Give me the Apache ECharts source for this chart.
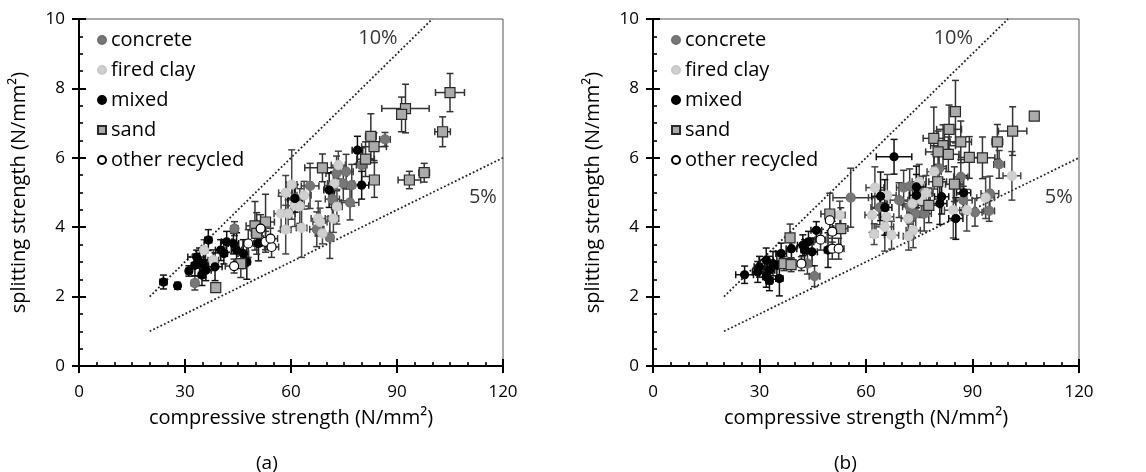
<!DOCTYPE html>
<html>
<head>
<meta charset="utf-8">
<script src="https://cdn.jsdelivr.net/npm/echarts@6/dist/echarts.min.js"></script>
<style>html,body{margin:0;padding:0;background:#fff}#c{width:1146px;height:472px}</style>
</head>
<body>
<div id="c"></div>
<script>
// ---- data: [compressive, splitting, x error, y error] ----
const concreteA = [[86.6,6.53,1.5,0.2],[80.0,5.79,1.5,0.5],[72.9,5.55,3.0,0.5],[75.6,5.60,2.0,0.5],[74.8,5.26,3.0,0.5],[77.2,5.21,2.0,0.6],[65.4,5.19,2.5,0.65],[71.7,4.81,2.0,0.5],[76.7,4.71,2.5,0.5],[67.3,3.94,2.0,0.5],[71.0,3.70,1.0,0.6],[44.0,3.96,1.0,0.2],[32.8,2.39,1.0,0.2],[72.0,5.20,2.5,0.4],[61.1,4.83,2.0,0.4]];
const firedClayA = [[73.4,5.79,2.0,0.4],[72.3,5.26,2.0,0.5],[60.2,5.23,1.5,1.0],[58.5,4.99,2.0,0.5],[63.7,4.92,2.0,0.4],[61.1,4.62,2.0,0.6],[62.5,4.61,2.5,0.5],[57.2,4.39,2.0,0.5],[59.2,4.39,2.0,0.4],[67.7,4.25,2.0,0.5],[72.0,4.25,1.5,0.4],[73.0,4.59,1.5,0.5],[58.5,3.93,1.5,0.7],[63.0,3.98,1.5,0.85],[68.9,3.82,2.0,0.3],[68.2,4.15,2.0,0.4],[35.4,3.34,1.0,0.3],[38.0,3.05,1.5,0.3]];
const mixedA = [[78.8,6.22,1.5,0.4],[80.0,5.21,2.0,0.4],[70.8,5.07,1.5,0.5],[61.1,4.83,2.0,0.4],[23.9,2.42,1.0,0.2],[27.9,2.31,0.5,0.1],[31.1,2.74,0.8,0.15],[38.5,2.86,2.0,0.4],[36.6,3.63,1.0,0.3],[33.3,3.14,2.5,0.2],[35.2,2.95,1.5,0.4],[34.8,2.62,1.0,0.3],[35.9,2.76,1.5,0.3],[40.1,3.34,1.5,0.3],[41.8,3.58,1.5,0.3],[43.7,3.53,1.5,0.3],[44.6,3.34,1.5,0.5],[47.5,3.00,1.0,0.5],[50.8,3.53,1.0,0.5],[46.5,3.24,1.5,0.4],[41.0,3.24,1.0,0.3],[34.1,3.00,1.5,0.4],[32.8,2.90,1.0,0.3]];
const sandA = [[105.0,7.88,4.1,0.55],[92.4,7.42,6.7,0.7],[91.3,7.25,1.0,0.5],[102.9,6.75,2.2,0.43],[93.5,5.36,3.2,0.25],[97.7,5.57,1.5,0.27],[82.6,6.62,1.5,0.65],[83.5,6.32,3.5,0.4],[81.1,5.96,2.5,0.5],[83.6,5.36,1.0,0.5],[68.9,5.71,5.0,0.4],[52.8,4.15,2.5,0.8],[49.8,4.04,2.5,0.7],[50.3,3.82,1.5,0.6],[45.8,2.95,2.0,0.4],[38.7,2.26,0.5,0.1]];
const otherA = [[51.4,3.96,1.5,0.4],[47.9,3.53,1.5,0.4],[52.8,3.58,2.0,0.3],[54.5,3.43,2.0,0.3],[54.2,3.67,2.0,0.3],[43.9,2.88,2.5,0.2]];

const concreteB = [[97.5,5.81,1.5,0.4],[86.7,5.45,2.0,0.5],[80.6,5.69,2.0,0.5],[70.6,5.14,2.0,0.5],[72.3,5.18,2.0,0.5],[94.9,4.97,2.5,0.5],[87.4,4.78,2.5,0.4],[94.7,4.47,1.5,0.3],[90.7,4.43,2.0,0.4],[74.0,4.39,2.5,0.5],[76.4,4.39,2.0,0.5],[69.3,4.78,2.5,0.5],[63.9,4.57,2.5,0.5],[55.7,4.85,5.0,0.85],[45.5,2.59,1.5,0.3],[43.5,2.95,1.0,0.3],[76.1,4.97,2.5,0.5],[72.3,4.59,2.0,0.5]];
const firedClayB = [[101.1,5.48,2.5,0.7],[93.7,4.85,2.5,0.6],[79.2,5.60,2.0,0.5],[75.0,5.31,2.0,0.5],[76.9,4.99,2.0,0.5],[88.4,4.49,2.0,0.6],[84.6,4.49,2.5,0.8],[62.5,5.14,2.5,0.6],[66.0,4.92,2.5,0.6],[61.7,4.35,2.0,0.5],[65.8,4.30,2.0,0.5],[65.3,4.01,2.5,0.7],[62.3,3.80,1.0,0.3],[67.2,3.77,2.0,0.4],[71.9,4.25,2.0,0.5],[73.3,3.91,2.0,0.5],[72.0,3.74,1.5,0.4],[73.1,4.68,2.5,0.5],[75.6,4.78,2.5,0.5],[52.6,4.35,1.5,0.4]];
const mixedB = [[67.9,6.03,5.0,0.5],[85.3,4.25,2.0,0.6],[87.5,4.99,2.0,0.5],[81.3,4.88,2.0,0.5],[80.8,4.68,2.0,0.6],[74.2,5.16,2.5,0.6],[74.2,4.92,2.0,0.6],[64.1,4.89,2.5,0.7],[65.3,4.57,2.0,0.8],[25.8,2.63,2.5,0.25],[29.5,2.71,1.5,0.3],[31.9,3.05,2.0,0.35],[30.0,2.86,1.5,0.3],[31.9,2.57,1.0,0.3],[32.8,2.76,1.5,0.4],[33.8,2.95,1.5,0.35],[35.6,2.52,1.0,0.5],[36.1,3.24,1.5,0.3],[39.0,3.38,1.5,0.3],[42.2,3.48,1.5,0.3],[42.7,3.34,1.0,0.3],[44.8,3.29,1.5,0.4],[46.0,3.91,1.5,0.25],[43.8,3.58,1.5,0.3],[49.3,3.34,1.0,0.5],[32.8,2.47,1.0,0.3],[34.9,2.90,1.5,0.4]];
const sandB = [[107.4,7.20,1.0,0.1],[85.2,7.33,0.5,0.9],[101.3,6.77,4.0,0.7],[97.0,6.46,1.5,0.5],[83.4,6.82,3.5,0.7],[79.1,6.56,3.0,0.9],[81.7,6.35,3.5,0.6],[86.7,6.46,3.0,0.6],[83.2,6.10,3.0,0.5],[80.3,6.17,3.5,0.6],[89.1,6.01,3.0,0.6],[92.8,6.00,3.5,0.6],[80.2,5.31,2.5,0.5],[84.9,5.24,2.5,0.5],[77.7,4.63,3.0,0.5],[49.8,4.38,2.5,0.6],[52.9,3.96,2.0,0.6],[38.6,3.69,1.0,0.4],[36.9,2.95,1.5,0.2],[38.9,2.92,1.0,0.2]];
const otherB = [[49.8,4.20,1.0,0.3],[50.5,3.87,1.0,0.3],[47.2,3.64,1.5,0.3],[50.5,3.38,1.5,0.3],[52.3,3.38,1.5,0.3],[41.8,2.95,1.0,0.2]];

const line10 = [[20,2],[100,10]];
const line5 = [[20,1],[120,6]];
const annotText = ['10%','5%'];
const annotPos = [[84.6,9.45],[114.3,4.87]];
const panelTitles = ['(a)','(b)'];
const xTicks = [0,30,60,90,120];
const yTicks = [0,2,4,6,8,10];

const FONT = 'Open Sans';
const catStyle = {
  'concrete':       {symbol:'circle', size:9,  color:'#777777', border:'#6f6f6f', bar:'#3a3a3a'},
  'fired clay':     {symbol:'circle', size:9,  color:'#d0d0d0', border:'#c8c8c8', bar:'#444444'},
  'mixed':          {symbol:'circle', size:8,  color:'#000000', border:'#000000', bar:'#111111'},
  'sand':           {symbol:'rect',   size:10, color:'#ababab', border:'#2a2a2a', bar:'#333333'},
  'other recycled': {symbol:'circle', size:9,  color:'#ffffff', border:'#000000', bar:'#333333'}
};
const panels = [
  {'concrete':concreteA,'fired clay':firedClayA,'mixed':mixedA,'sand':sandA,'other recycled':otherA},
  {'concrete':concreteB,'fired clay':firedClayB,'mixed':mixedB,'sand':sandB,'other recycled':otherB}
];
const catNames = Object.keys(catStyle);

function errRender(color){
  return function(params, api){
    const x = api.value(0), y = api.value(1), xe = api.value(2), ye = api.value(3);
    const l = api.coord([x-xe,y]), r = api.coord([x+xe,y]);
    const t = api.coord([x,y+ye]), b = api.coord([x,y-ye]);
    const cap = 3.5;
    const st = {stroke:color, lineWidth:1.5};
    const seg = (x1,y1,x2,y2)=>({type:'line', shape:{x1,y1,x2,y2}, style:st});
    return {type:'group', children:[
      seg(l[0],l[1],r[0],r[1]),
      seg(l[0],l[1]-cap,l[0],l[1]+cap),
      seg(r[0],r[1]-cap,r[0],r[1]+cap),
      seg(t[0],t[1],b[0],b[1]),
      seg(t[0]-cap,t[1],t[0]+cap,t[1]),
      seg(b[0]-cap,b[1],b[0]+cap,b[1])
    ]};
  };
}

const grids = [
  {left:79, top:19, width:424, height:347},
  {left:653, top:19, width:426, height:347}
];
const xAxis = [], yAxis = [], series = [], legend = [], title = [];
grids.forEach((g,i)=>{
  g.show = true; g.borderColor = '#555'; g.borderWidth = 1; g.containLabel = false;
  const axLine = {show:true, onZero:false, lineStyle:{color:'#000', width:2}};
  xAxis.push({
    type:'value', gridIndex:i, min:xTicks[0], max:xTicks[xTicks.length-1], interval:30,
    axisLine:axLine, splitLine:{show:false},
    axisTick:{show:true, inside:true, length:7, lineStyle:{color:'#000', width:2}},
    minorTick:{show:true, splitNumber:6, length:4, lineStyle:{color:'#000', width:1.6}},
    axisLabel:{show:true, margin:18, color:'#000', fontFamily:FONT, fontSize:17},
    name:'compressive strength (N/mm²)', nameLocation:'middle', nameGap:42,
    nameTextStyle:{color:'#000', fontFamily:FONT, fontSize:20}
  });
  xAxis.push({
    type:'value', gridIndex:i, position:'bottom', min:xTicks[0], max:xTicks[xTicks.length-1], interval:30,
    axisLine:axLine, splitLine:{show:false},
    axisTick:{show:true, inside:false, length:7, lineStyle:{color:'#000', width:2}},
    axisLabel:{show:false}
  });
  yAxis.push({
    type:'value', gridIndex:i, min:yTicks[0], max:yTicks[yTicks.length-1], interval:2,
    axisLine:axLine, splitLine:{show:false},
    axisTick:{show:true, inside:true, length:7, lineStyle:{color:'#000', width:2}},
    minorTick:{show:true, splitNumber:4, length:4, lineStyle:{color:'#000', width:1.6}},
    axisLabel:{show:true, margin:14, color:'#000', fontFamily:FONT, fontSize:17},
    name:'splitting strength (N/mm²)', nameLocation:'middle', nameGap:50, nameRotate:90,
    nameTextStyle:{color:'#000', fontFamily:FONT, fontSize:20}
  });
  yAxis.push({
    type:'value', gridIndex:i, position:'left', min:yTicks[0], max:yTicks[yTicks.length-1], interval:2,
    axisLine:axLine, splitLine:{show:false},
    axisTick:{show:true, inside:false, length:7, lineStyle:{color:'#000', width:2}},
    axisLabel:{show:false}
  });
  const xi = i*2, yi = i*2;
  // reference lines
  [line10, line5].forEach(d=>{
    series.push({type:'line', xAxisIndex:xi, yAxisIndex:yi, data:d, symbol:'none', silent:true, z:1,
      lineStyle:{color:'#222', width:1.8, type:[1.8,2.2]}});
  });
  series.push({type:'scatter', xAxisIndex:xi, yAxisIndex:yi, symbolSize:0, silent:true, z:1,
    data: annotText.map((t,k)=>({name:t, value:annotPos[k]})),
    label:{show:true, position:'inside', formatter:'{b}', color:'#000', fontFamily:FONT, fontSize:20}});
  // error bars then markers
  catNames.forEach(n=>{
    const s = catStyle[n];
    series.push({type:'custom', xAxisIndex:xi, yAxisIndex:yi, z:2, silent:true,
      renderItem: errRender(s.bar), encode:{x:0, y:1}, data: panels[i][n]});
  });
  catNames.forEach(n=>{
    const s = catStyle[n];
    series.push({type:'scatter', name:n, xAxisIndex:xi, yAxisIndex:yi, z:3,
      symbol:s.symbol, symbolSize:s.size,
      itemStyle:{color:s.color, borderColor:s.border, borderWidth:1.2, opacity:1},
      data: panels[i][n].map(p=>[p[0],p[1]])});
  });
  legend.push({
    orient:'vertical', left:g.left+13, top:25, itemGap:10, itemWidth:8, itemHeight:8,
    data:catNames, selectedMode:false,
    textStyle:{color:'#000', fontFamily:FONT, fontSize:20}
  });
  title.push({text:panelTitles[i], left:g.left + (i===0?172:176), top:449,
    textStyle:{color:'#000', fontFamily:FONT, fontSize:19, fontWeight:'normal'}});
});

const chart = echarts.init(document.getElementById('c'), null, {renderer:'canvas'});
chart.setOption({
  animation:false, backgroundColor:'#fff',
  grid:grids, xAxis, yAxis, series, legend, title
});
</script>
</body>
</html>
